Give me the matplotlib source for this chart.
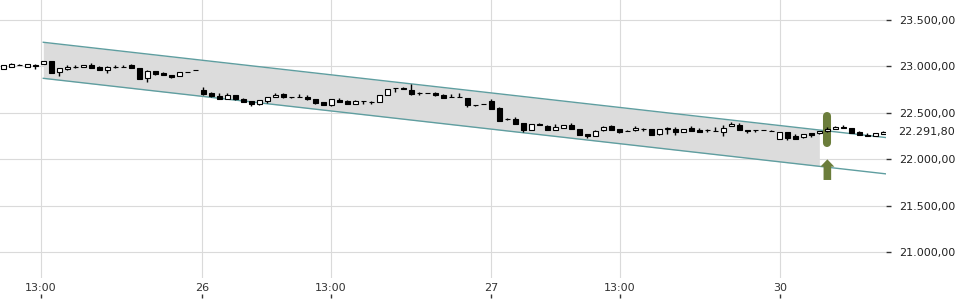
import numpy as np
import matplotlib.pyplot as plt

# 15-min candles, index 0..110
opens = [22976, 22997, 23018, 22997, 23019, 23026, 23059, 22937, 22969, 22995,
         22994, 23019, 22997, 22958, 22995, 22993, 23012, 22983, 22879, 22951,
         22933, 22908, 22897, 22937, 22959, 22743, 22714, 22679, 22653, 22693,
         22653, 22625, 22593, 22632, 22675, 22704, 22670, 22670, 22675, 22650,
         22617, 22582, 22643, 22632, 22599, 22628, 22614, 22617, 22696, 22766,
         22771, 22743, 22714, 22716, 22718, 22696, 22676, 22676, 22660, 22582,
         22600, 22628, 22556, 22436, 22434, 22388, 22316, 22384, 22363, 22316,
         22337, 22373, 22327, 22273, 22251, 22313, 22356, 22323, 22306, 22313,
         22324, 22327, 22270, 22332, 22327, 22298, 22334, 22316, 22313, 22310,
         22291, 22359, 22370, 22316, 22316, 22317, 22310, 22219, 22291, 22248,
         22237, 22280, 22280, 22302, 22327, 22352, 22334, 22298, 22266, 22252,
         22273]
closes = [23012, 23026, 23020, 23023, 23005, 23055, 22933, 22980, 22997, 22998,
          23016, 22987, 22965, 22997, 22997, 22995, 22983, 22868, 22954, 22922,
          22908, 22890, 22940, 22936, 22958, 22700, 22679, 22653, 22696, 22646,
          22617, 22593, 22639, 22668, 22696, 22668, 22667, 22672, 22653, 22603,
          22588, 22650, 22617, 22596, 22632, 22626, 22613, 22689, 22757, 22764,
          22754, 22700, 22712, 22713, 22696, 22660, 22673, 22673, 22582, 22580,
          22598, 22542, 22416, 22434, 22384, 22316, 22377, 22370, 22316, 22345,
          22370, 22330, 22262, 22255, 22309, 22352, 22320, 22294, 22304, 22341,
          22322, 22262, 22327, 22334, 22291, 22327, 22309, 22298, 22311, 22308,
          22334, 22384, 22320, 22305, 22314, 22316, 22308, 22291, 22226, 22220,
          22273, 22266, 22305, 22327, 22352, 22338, 22287, 22262, 22252, 22280,
          22291.8]
highs = [23015, 23037, 23030, 23030, 23022, 23062, 23062, 22985, 23012, 23019,
         23020, 23037, 23000, 23000, 23012, 23019, 23026, 22985, 22958, 22954,
         22935, 22910, 22944, 22938, 22960, 22779, 22720, 22714, 22714, 22697,
         22656, 22628, 22643, 22671, 22711, 22714, 22670, 22704, 22690, 22653,
         22620, 22653, 22660, 22635, 22635, 22630, 22625, 22693, 22760, 22768,
         22782, 22814, 22730, 22719, 22721, 22699, 22704, 22711, 22662, 22583,
         22601, 22650, 22560, 22448, 22453, 22391, 22380, 22391, 22366, 22377,
         22373, 22391, 22330, 22276, 22312, 22355, 22370, 22326, 22320, 22356,
         22338, 22330, 22330, 22352, 22348, 22330, 22359, 22341, 22327, 22345,
         22370, 22406, 22391, 22318, 22318, 22318, 22311, 22294, 22294, 22270,
         22276, 22283, 22309, 22352, 22355, 22370, 22337, 22309, 22280, 22283,
         22305]
lows = [22972, 22995, 23016, 22995, 22969, 23024, 22925, 22894, 22965, 22983,
        22992, 22985, 22962, 22933, 22983, 22992, 22980, 22862, 22833, 22905,
        22905, 22879, 22894, 22935, 22957, 22697, 22675, 22650, 22650, 22643,
        22615, 22578, 22590, 22607, 22673, 22665, 22665, 22669, 22639, 22600,
        22585, 22578, 22615, 22593, 22596, 22596, 22600, 22614, 22693, 22728,
        22752, 22697, 22695, 22711, 22680, 22657, 22672, 22672, 22567, 22579,
        22597, 22538, 22412, 22420, 22380, 22291, 22313, 22366, 22313, 22313,
        22334, 22327, 22258, 22227, 22248, 22309, 22316, 22280, 22302, 22310,
        22310, 22258, 22266, 22277, 22266, 22295, 22306, 22295, 22298, 22307,
        22255, 22356, 22316, 22280, 22291, 22315, 22307, 22216, 22212, 22218,
        22234, 22237, 22277, 22298, 22324, 22336, 22284, 22259, 22250, 22249,
        22270]

tick_pos = [4.7, 24.85, 40.95, 60.95, 77.1, 97.1]
tick_labels = ['13:00', '26', '13:00', '27', '13:00', '30']
price_ticks = [21000, 21500, 22000, 22500, 23000, 23500]

# trend channel: start index, upper/lower at start and at right edge
ch_x = [5, 110.5]
ch_upper = [23260, 22233]
ch_lower = [22872, 21842]
ch_fill_end = 102

signal_x = 103
signal_bar = [22467, 22176]
arrow_tip, arrow_base = 22000, 21778


def fmt(v):
    return f"{v:,.2f}".replace(',', 'X').replace('.', ',').replace('X', '.')


plt.rcParams['font.family'] = 'DejaVu Sans'
fig = plt.figure(figsize=(9.6, 3.0), dpi=100)
ax = fig.add_axes([0, 22 / 300, 886 / 960, 278 / 300])

ax.set_xlim(-0.41, 110.33)
ax.set_ylim(20723, 23715)

# channel
xs = np.array(ch_x, dtype=float)
up = np.array(ch_upper, dtype=float)
lo = np.array(ch_lower, dtype=float)
xf = np.array([ch_x[0], ch_fill_end], dtype=float)
ax.fill_between(xf, np.interp(xf, xs, up), np.interp(xf, xs, lo),
                color='#dcdcdc', lw=0, zorder=1)
ax.plot(xs, up, color='#5f9ea0', lw=1, zorder=2)
ax.plot(xs, lo, color='#5f9ea0', lw=1, zorder=2)

# signal marker
green = '#6b7d3b'
ax.plot([signal_x, signal_x], signal_bar, color=green, lw=5.8,
        solid_capstyle='round', zorder=3)
ax.arrow(signal_x, arrow_base, 0, arrow_tip - arrow_base, width=0.95,
         head_width=1.75, head_length=79, length_includes_head=True,
         color=green, lw=0, zorder=3)

# candles
o = np.array(opens)
c = np.array(closes)
idx = np.arange(len(o))
ax.vlines(idx, lows, highs, color='black', lw=1, zorder=4)
bottom = np.minimum(o, c)
height = np.maximum(np.abs(c - o), 1.0)
colors = ['white' if cc >= oo else 'black' for oo, cc in zip(o, c)]
ax.bar(idx, height, bottom=bottom, width=0.6, color=colors,
       edgecolor='black', linewidth=0.8, zorder=5)

# axes styling
for s in ax.spines.values():
    s.set_visible(False)
ax.set_axisbelow(True)
ax.yaxis.tick_right()
ax.set_yticks(price_ticks)
ax.set_yticklabels([fmt(v) for v in price_ticks])
ax.tick_params(axis='y', length=3.6, width=1, color='#333333', pad=6,
               labelsize=8, labelcolor='#222222')
ax.set_xticks(tick_pos)
ax.set_xticklabels(tick_labels)
ax.tick_params(axis='x', length=0, pad=3.5, labelsize=8, labelcolor='#333333')
ax.grid(True, color='#dadada', lw=0.8)
ax.vlines(tick_pos, -0.071, -0.056, transform=ax.get_xaxis_transform(),
          color='#333333', lw=1, clip_on=False)

ax.annotate(fmt(closes[-1]), xy=(1, closes[-1]),
            xycoords=('axes fraction', 'data'), xytext=(8.6, 0),
            textcoords='offset points', ha='left', va='center',
            fontsize=8, color='#222222')

fig.savefig('out.png', dpi=100)
